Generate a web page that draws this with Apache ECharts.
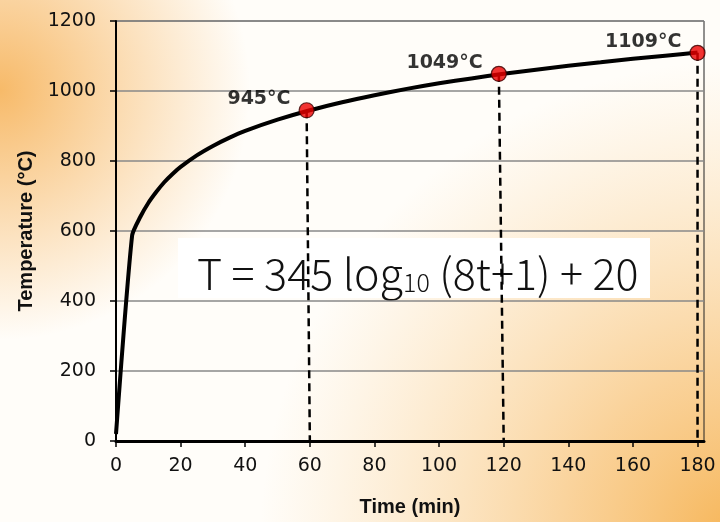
<!DOCTYPE html>
<html><head><meta charset="utf-8">
<script src="https://cdn.jsdelivr.net/npm/echarts@6/dist/echarts.min.js"></script>
<style>html,body{margin:0;padding:0;background:#fff}#c{width:720px;height:522px}</style>
</head><body><div id="c"></div>
<script>
// Fire curve
const times = [0, 5, 7.5, 10, 12.5, 15, 17.5, 20, 25, 30, 35, 40, 50, 60, 70, 80, 90, 100, 110, 120, 130, 140, 150, 160, 170, 180];
const temps = [20, 588, 640, 680, 712, 740, 763, 783, 816, 843, 866, 886, 918, 945, 968, 988, 1006, 1022, 1036, 1049, 1061, 1072, 1082, 1092, 1101, 1110];
// highlighted points
const markTimes = [59, 118.5, 180];
const markTemps = [945, 1049, 1109];
const markLabels = ['945°C', '1049°C', '1109°C'];
const dropTimes = [60, 120, 180];
const xTicks = [0, 20, 40, 60, 80, 100, 120, 140, 160, 180];

const chart = echarts.init(document.getElementById('c'), null, {renderer: 'canvas'});

const dashSeries = markTimes.map((t, i) => ({
  type: 'line', silent: true, z: 1, symbol: 'none',
  data: [[t, markTemps[i]], [dropTimes[i], 0]],
  lineStyle: {color: '#000', width: 2.5, type: [8, 5]}
}));

chart.setOption({
  animation: false,
  backgroundColor: '#fffdf9',
  graphic: [
    {type: 'rect', z: -10, silent: true, shape: {x: 0, y: 0, width: 720, height: 522},
      style: {fill: new echarts.graphic.RadialGradient(0, 90, 250, [
        {offset: 0, color: 'rgba(247,186,105,1)'},
        {offset: 1, color: 'rgba(248,190,115,0)'}], true)}},
    {type: 'rect', z: -10, silent: true, shape: {x: 0, y: 0, width: 720, height: 522},
      style: {fill: new echarts.graphic.RadialGradient(740, 540, 480, [
        {offset: 0, color: 'rgba(246,180,85,1)'},
        {offset: 0.35, color: 'rgba(248,195,120,0.75)'},
        {offset: 1, color: 'rgba(250,210,150,0)'}], true)}},
    {type: 'group', z: 10, children: [
      {type: 'rect', shape: {x: 178, y: 238, width: 472, height: 60}, style: {fill: '#ffffff'}},
      {type: 'text', x: 197, y: 270, style: {
        text: '{a|T = 345 log}{s|10}{a| (8t+1) + 20}',
        align: 'left', verticalAlign: 'middle',
        rich: {
          a: {fontFamily: 'Noto Sans CJK JP', fontWeight: 300, fontSize: 43, lineHeight: 50, verticalAlign: 'bottom', fill: '#111'},
          s: {fontFamily: 'Noto Sans CJK JP', fontWeight: 300, fontSize: 25, lineHeight: 22, verticalAlign: 'bottom', fill: '#111'}
        }
      }}
    ]}
  ],
  grid: {left: 116, right: 16, top: 21, bottom: 81, show: true, borderColor: '#222', borderWidth: 1, backgroundColor: 'transparent'},
  xAxis: {
    type: 'value', min: 0, max: 182, interval: 20,
    name: 'Time (min)', nameLocation: 'middle', nameGap: 56,
    nameTextStyle: {fontFamily: 'Liberation Sans', fontWeight: 'bold', fontSize: 20, color: '#111'},
    axisLine: {show: true, lineStyle: {color: '#000', width: 3}},
    axisTick: {show: true, length: 6, lineStyle: {color: '#000', width: 1.5}, customValues: xTicks},
    axisLabel: {margin: 16, fontFamily: 'DejaVu Sans', fontSize: 19, color: '#111', customValues: xTicks},
    splitLine: {show: false}
  },
  yAxis: {
    type: 'value', min: 0, max: 1200, interval: 200,
    name: 'Temperature (°C)', nameLocation: 'middle', nameGap: 80,
    nameTextStyle: {fontFamily: 'Liberation Sans', fontWeight: 'bold', fontSize: 20, color: '#111'},
    axisLine: {show: true, lineStyle: {color: '#000', width: 2}},
    axisTick: {show: true, length: 6, lineStyle: {color: '#000', width: 1.5}},
    axisLabel: {margin: 20, fontFamily: 'DejaVu Sans', fontSize: 19, color: '#111', formatter: v => String(v)},
    splitLine: {show: true, lineStyle: {color: '#888', width: 1.5}}
  },
  series: [
    ...dashSeries,
    {type: 'line', z: 3, smooth: 0.2, symbol: 'none', data: times.map((t, i) => [t, temps[i]]),
      lineStyle: {color: '#000', width: 4}},
    {type: 'scatter', z: 4, symbol: 'circle', symbolSize: 15,
      data: markTimes.map((t, i) => ({value: [t, markTemps[i]], name: markLabels[i]})),
      itemStyle: {color: '#ee0000', borderColor: '#3a0000', borderWidth: 1.2},
      label: {show: true, position: 'left', distance: 8, offset: [0, -11], formatter: p => p.name,
        fontFamily: 'DejaVu Sans', fontWeight: 'bold', fontSize: 19, color: '#000'}}
  ]
});
</script></body></html>
